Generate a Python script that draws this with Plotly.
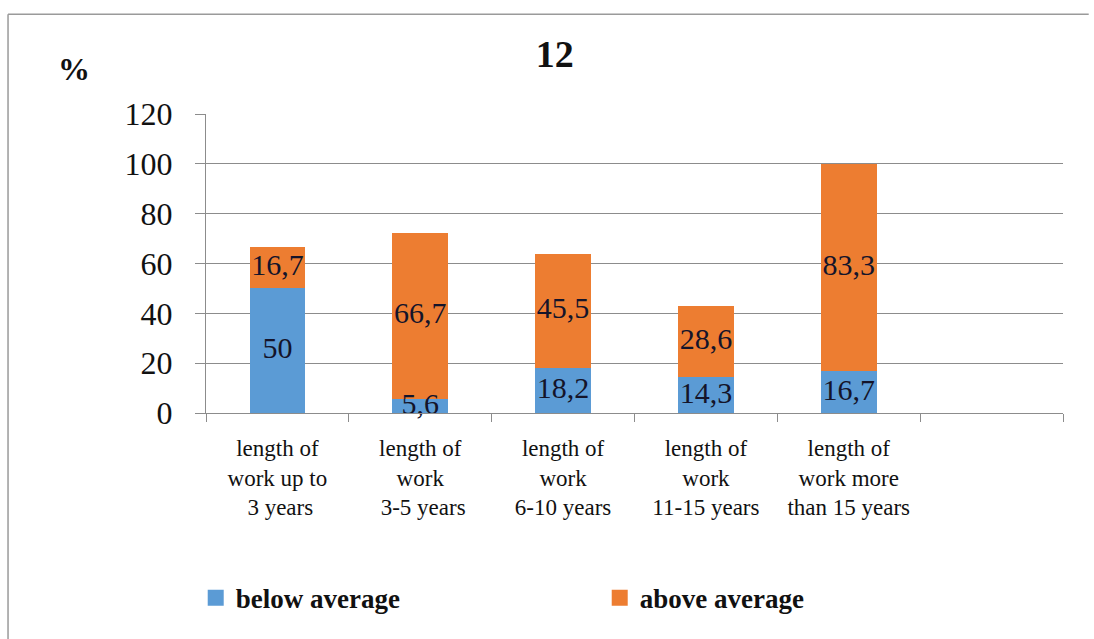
import plotly.graph_objects as go

# Stacked shares (%) by length of work
categories = [
    "length of<br>work up to<br> 3 years",
    "length of<br>work<br> 3-5 years",
    "length of<br>work<br>6-10 years",
    "length of<br>work<br>11-15 years",
    "length of<br>work more<br>than 15 years",
    " ",
]
below_average = [50, 5.6, 18.2, 14.3, 16.7, None]
above_average = [16.7, 66.7, 45.5, 28.6, 83.3, None]
y_ticks = [0, 20, 40, 60, 80, 100, 120]

SERIF = "Liberation Serif"
BLUE = "#5b9bd5"
ORANGE = "#ed7d31"
GRID = "#8c8c8c"


def fmt(values):
    return [f"{v:g}".replace(".", ",") for v in values]


fig = go.Figure()
series = [("below average", below_average, BLUE), ("above average", above_average, ORANGE)]
for name, vals, color in series:
    fig.add_trace(go.Bar(
        name=name, x=categories, y=vals,
        marker=dict(color=color, line=dict(width=0)),
        width=0.39, hoverinfo="skip", showlegend=False, legendgroup=name,
    ))

# value labels centred on each stacked segment
bases = [0] * len(below_average)
for _, vals, _ in series:
    xs, ys, vs = [], [], []
    for i, v in enumerate(vals):
        if v is None:
            continue
        xs.append(categories[i])
        ys.append(bases[i] + v / 2)
        vs.append(v)
        bases[i] += v
    fig.add_trace(go.Scatter(
        x=xs, y=ys, text=fmt(vs), mode="text", cliponaxis=False,
        textposition="middle center", showlegend=False, hoverinfo="skip",
        textfont=dict(family=SERIF, size=30, color="#14142a"),
    ))

# legend entries with larger square swatches
for name, _, color in series:
    fig.add_trace(go.Scatter(
        x=[None], y=[None], mode="markers", name=name, legendgroup=name,
        marker=dict(symbol="square", size=16, color=color),
    ))

# outer chart frame: top and left edges only
for x0, y0, x1, y1 in [(-0.231, 1.334, 1.03, 1.334), (-0.231, 1.334, -0.231, -1.0)]:
    fig.add_shape(type="line", xref="paper", yref="paper",
                  x0=x0, y0=y0, x1=x1, y1=y1,
                  line=dict(color="#9a9a9a", width=1.5), layer="below")

fig.add_annotation(text="<b>%</b>", xref="paper", yref="paper",
                   x=-0.154, y=1.1505, xanchor="center", yanchor="middle",
                   showarrow=False, font=dict(family=SERIF, size=32, color="#111"))

fig.update_layout(
    barmode="stack",
    width=1094, height=639,
    margin=dict(l=206, r=31, t=114, b=226),
    paper_bgcolor="white", plot_bgcolor="white",
    title=dict(text="<b>12</b>", xref="paper", x=0.407, xanchor="center",
               yref="container", y=0.9155, yanchor="middle",
               font=dict(family=SERIF, size=38, color="#111")),
    showlegend=True,
    legend=dict(orientation="h", x=-0.012, xanchor="left", y=-0.619, yanchor="middle",
                font=dict(family=SERIF, size=27, color="#111", weight="bold"),
                entrywidth=359, entrywidthmode="pixels",
                bgcolor="rgba(0,0,0,0)", traceorder="normal"),
    xaxis=dict(
        type="category", tickson="boundaries",
        showline=True, linecolor=GRID, linewidth=1,
        ticks="outside", ticklen=8, tickcolor=GRID, tickwidth=1,
        showgrid=False, ticklabelstandoff=14,
        tickfont=dict(family=SERIF, size=23, color="#111"),
    ),
    yaxis=dict(
        range=[0, 120], tickvals=y_ticks,
        showline=True, linecolor=GRID, linewidth=1,
        ticks="outside", ticklen=10, tickcolor=GRID, tickwidth=1,
        showgrid=True, gridcolor=GRID, gridwidth=1, zeroline=False,
        ticklabelstandoff=16,
        tickfont=dict(family=SERIF, size=32, color="#111"),
    ),
)

fig.write_html("out.html")
